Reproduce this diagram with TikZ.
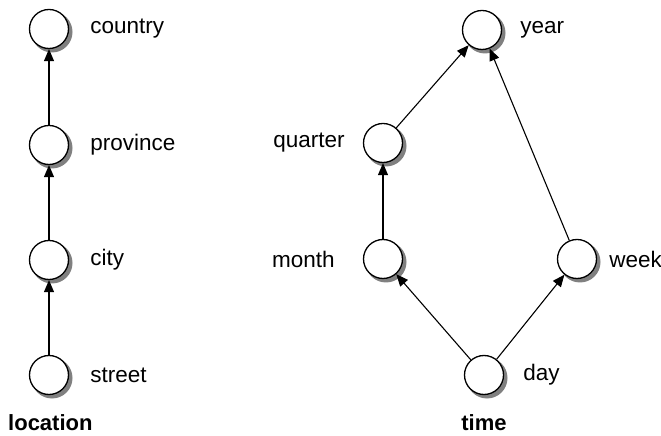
\documentclass[tikz,border=0pt]{standalone}
\usepackage{fontspec}
\setmainfont{Liberation Sans}
\usetikzlibrary{positioning,arrows.meta}

\tikzset{
  nivel/.style={circle, draw, line width=1.3pt, fill=white, minimum size=39pt, inner sep=0pt},
  sombra/.style={circle, fill=gray, draw=gray, line width=1pt, minimum size=40pt, inner sep=0pt},
  etiq/.style={inner sep=0pt, font=\fontsize{22.5}{27}\selectfont},
  titulo/.style={inner sep=0pt, font=\fontsize{22}{27}\selectfont\bfseries},
  flecha/.style={line width=1.1pt, -{Triangle[length=12pt,width=10pt]}}
}

\begin{document}
\begin{tikzpicture}[x=1pt,y=1pt]
        \useasboundingbox (0,0) rectangle (661,436);
        % Sombras
        \foreach \n/\x/\y in {country/52/404, province/52/288, city/52/173, street/52/58,
                              year/485/403, quarter/386/290, month/386/174, week/580/174, day/487/58}{
            \node[sombra] (s\n) at (\x,\y) {};
        }
        % Ubicacion
        \node[nivel] (country) at (49,407) {};
        \node[nivel] (province) at (49,291) {};
        \node[nivel] (city) at (49,176) {};
        \node[nivel] (street) at (49,61) {};
        \node[etiq, right=21pt of country] (lcountry) {country};
        \node[etiq, right=21pt of province] (lprovince) {province};
        \node[etiq, right=21pt of city] (lcity) {city};
        \node[etiq, right=21pt of street] (lstreet) {street};
        \foreach \a/\b in {street/city, city/province, province/country}{
            \draw[flecha] (\a) -- (\b);
        }
        \node[titulo, anchor=base west] (location) at (8,5) {location};
        % Tiempo
        \node[nivel] (year) at (482,406) {};
        \node[nivel] (quarter) at (383,293) {};
        \node[nivel] (month) at (383,177) {};
        \node[nivel] (week) at (577,177) {};
        \node[nivel] (day) at (484,61) {};
        \node[etiq, right=18pt of year] (lyear) {year};
        \node[etiq, left=18pt of quarter] (lquarter) {quarter};
        \node[etiq, left=28pt of month] (lmonth) {month};
        \node[etiq, right=12pt of week] (lweek) {week};
        \node[etiq, right=19pt of day] (lday) {day};
        \foreach \a/\b in {day/month, day/week, month/quarter, quarter/year, week/year}{
            \draw[flecha] (\a) -- (\b);
        }
        \node[titulo, anchor=base] (time) at (484,5) {time};
\end{tikzpicture}
\end{document}
